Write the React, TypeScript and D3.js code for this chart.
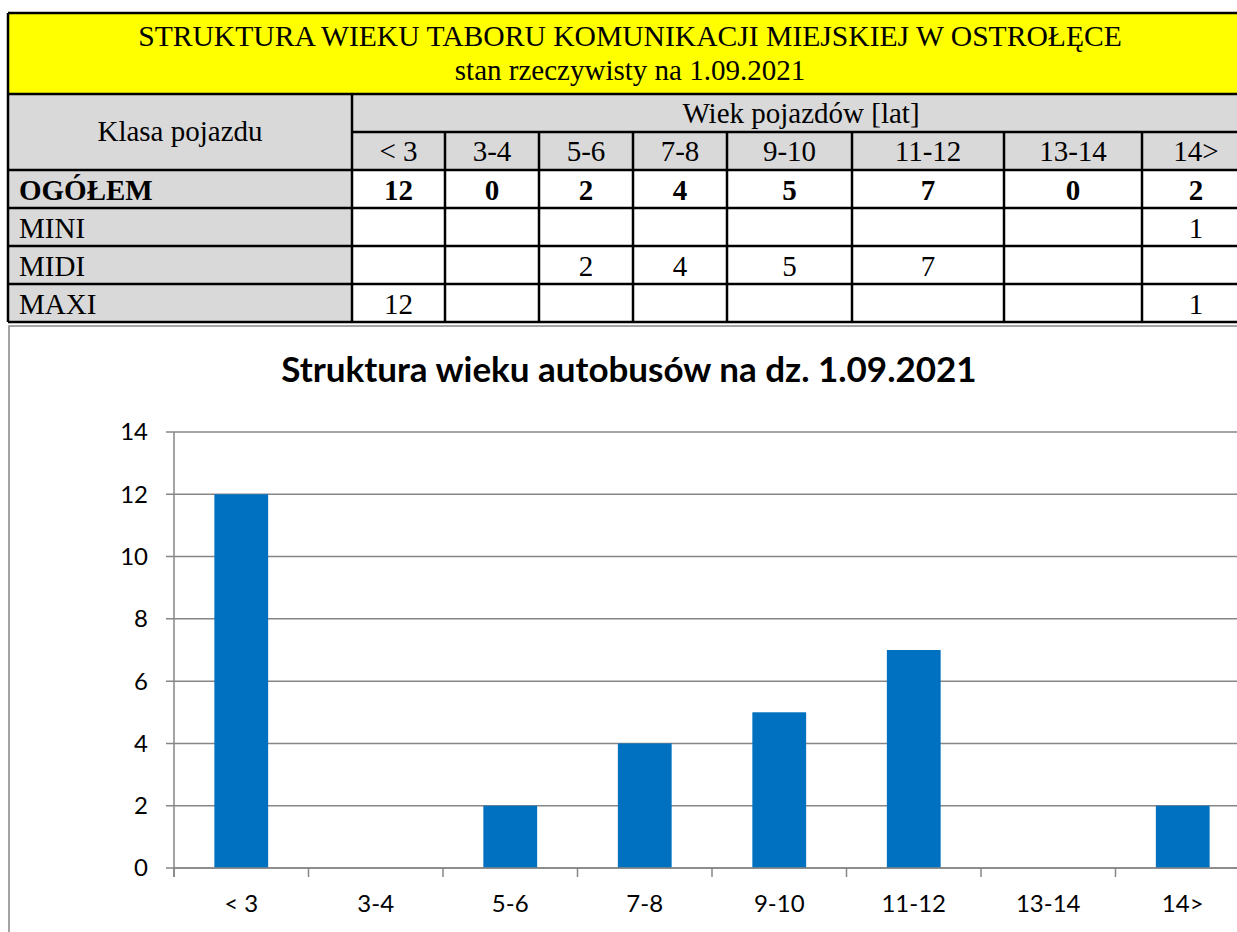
import React from 'react';
import * as d3 from 'd3';

// Table / chart data
const categories = ['< 3', '3-4', '5-6', '7-8', '9-10', '11-12', '13-14', '14>'];
const ogolem = [12, 0, 2, 4, 5, 7, 0, 2];
const mini = [null, null, null, null, null, null, null, 1];
const midi = [null, null, 2, 4, 5, 7, null, null];
const maxi = [12, null, null, null, null, null, null, 1];
const yTicks = [0, 2, 4, 6, 8, 10, 12, 14];

const tableTitle = 'STRUKTURA WIEKU TABORU KOMUNIKACJI MIEJSKIEJ W OSTROŁĘCE';
const tableSubtitle = 'stan rzeczywisty na 1.09.2021';
const chartTitle = 'Struktura wieku autobusów na dz. 1.09.2021';

const rows = [
  { label: 'MINI', values: mini },
  { label: 'MIDI', values: midi },
  { label: 'MAXI', values: maxi },
];

// layout of the table (column edges, row edges)
const colEdges = [8, 352, 445, 539, 633, 727, 852, 1004, 1142, 1250];
const rowEdges = [13, 94, 132, 170, 208, 246, 284, 322];

const serif = '"Liberation Serif", "Times New Roman", serif';
const sans = 'Lato, Carlito, Calibri, "Noto Sans", sans-serif';
const grid = '#868686';

const Table = () => {
  const L = colEdges[0];
  const R = colEdges[colEdges.length - 1];
  const mid = (i: number) => (colEdges[i] + colEdges[i + 1]) / 2;
  const fs = 29;
  return (
    <g fontFamily={serif} fontSize={fs} fill="#000">
      {/* title */}
      <rect x={L} y={rowEdges[0]} width={R - L} height={rowEdges[1] - rowEdges[0]} fill="#FFFF00" />
      <text x={630} y={46} textAnchor="middle" fontSize={29.6}>{tableTitle}</text>
      <text x={630} y={80} textAnchor="middle" fontSize={29}>{tableSubtitle}</text>

      {/* header fills */}
      <rect x={L} y={rowEdges[1]} width={R - L} height={rowEdges[3] - rowEdges[1]} fill="#D9D9D9" />
      <rect x={L} y={rowEdges[3]} width={colEdges[1] - L} height={rowEdges[7] - rowEdges[3]} fill="#D9D9D9" />
      <rect x={colEdges[1]} y={rowEdges[3]} width={R - colEdges[1]} height={rowEdges[7] - rowEdges[3]} fill="#fff" />

      <text x={mid(0)} y={141} textAnchor="middle">Klasa pojazdu</text>
      <text x={(colEdges[1] + R) / 2} y={123} textAnchor="middle">Wiek pojazdów [lat]</text>
      {categories.map((c, i) => (
        <text key={c} x={mid(i + 1)} y={rowEdges[3] - 9} textAnchor="middle">{c}</text>
      ))}

      {/* OGÓŁEM */}
      <text x={19} y={rowEdges[4] - 8} fontWeight="bold">OGÓŁEM</text>
      {ogolem.map((v, i) => (
        <text key={i} x={mid(i + 1)} y={rowEdges[4] - 8} textAnchor="middle" fontWeight="bold">{v}</text>
      ))}

      {rows.map((r, ri) => (
        <g key={r.label}>
          <text x={19} y={rowEdges[ri + 5] - 8}>{r.label}</text>
          {r.values.map((v, i) => v == null ? null : (
            <text key={i} x={mid(i + 1)} y={rowEdges[ri + 5] - 8} textAnchor="middle">{v}</text>
          ))}
        </g>
      ))}

      {/* lines */}
      <g stroke="#000" strokeWidth={2.5}>
        {rowEdges.map((y, i) => {
          if (i === 2) return <line key={i} x1={colEdges[1]} x2={R} y1={y} y2={y} />;
          return <line key={i} x1={L} x2={R} y1={y} y2={y} />;
        })}
        <line x1={L} x2={L} y1={rowEdges[0]} y2={rowEdges[7]} />
        <line x1={R} x2={R} y1={rowEdges[0]} y2={rowEdges[7]} />
        <line x1={colEdges[1]} x2={colEdges[1]} y1={rowEdges[1]} y2={rowEdges[7]} />
        {colEdges.slice(2, -1).map((x, i) => (
          <line key={i} x1={x} x2={x} y1={rowEdges[2]} y2={rowEdges[7]} />
        ))}
      </g>
    </g>
  );
};

const Chart = () => {
  const left = 174, right = 1250, top = 432, bottom = 868;
  const x = d3.scaleBand<string>().domain(categories).range([left, right]).paddingInner(0.6).paddingOuter(0.3);
  const y = d3.scaleLinear().domain([0, 14]).range([bottom, top]);
  const edges = d3.range(categories.length + 1).map(i => left + i * x.step());

  return (
    <g fontFamily={sans}>
      <rect x={9} y={326} width={1300} height={700} fill="#fff" stroke={grid} strokeWidth={1.5} />
      <text x={629} y={382} textAnchor="middle" fontWeight="bold" fontSize={35} fill="#000">{chartTitle}</text>

      {/* gridlines and y ticks */}
      {yTicks.map(t => (
        <g key={t}>
          <line x1={left - 8} x2={right} y1={y(t)} y2={y(t)} stroke={grid} strokeWidth={1.5} />
          <text x={148} y={y(t)} dy="0.35em" textAnchor="end" fontSize={24} fill="#000">{t}</text>
        </g>
      ))}

      {/* bars */}
      {ogolem.map((v, i) => (
        <rect key={i} x={x(categories[i])} y={y(v)} width={x.bandwidth()} height={y(0) - y(v)} fill="#0070C0" />
      ))}

      {/* axes */}
      <line x1={left} x2={left} y1={top} y2={bottom + 9} stroke={grid} strokeWidth={1.5} />
      <line x1={left} x2={right} y1={bottom} y2={bottom} stroke={grid} strokeWidth={1.5} />
      {edges.map((ex, i) => (
        <line key={i} x1={ex} x2={ex} y1={bottom} y2={bottom + 9} stroke={grid} strokeWidth={1.5} />
      ))}
      {categories.map(c => (
        <text key={c} x={(x(c) as number) + x.bandwidth() / 2} y={912} textAnchor="middle" fontSize={24} fill="#000">{c}</text>
      ))}
    </g>
  );
};

export default function App() {
  return (
    <svg width={1237} height={932} style={{ position: 'absolute', left: 0, top: 0, background: '#fff' }}>
      <rect width={1237} height={932} fill="#fff" />
      <Table />
      <Chart />
    </svg>
  );
}
